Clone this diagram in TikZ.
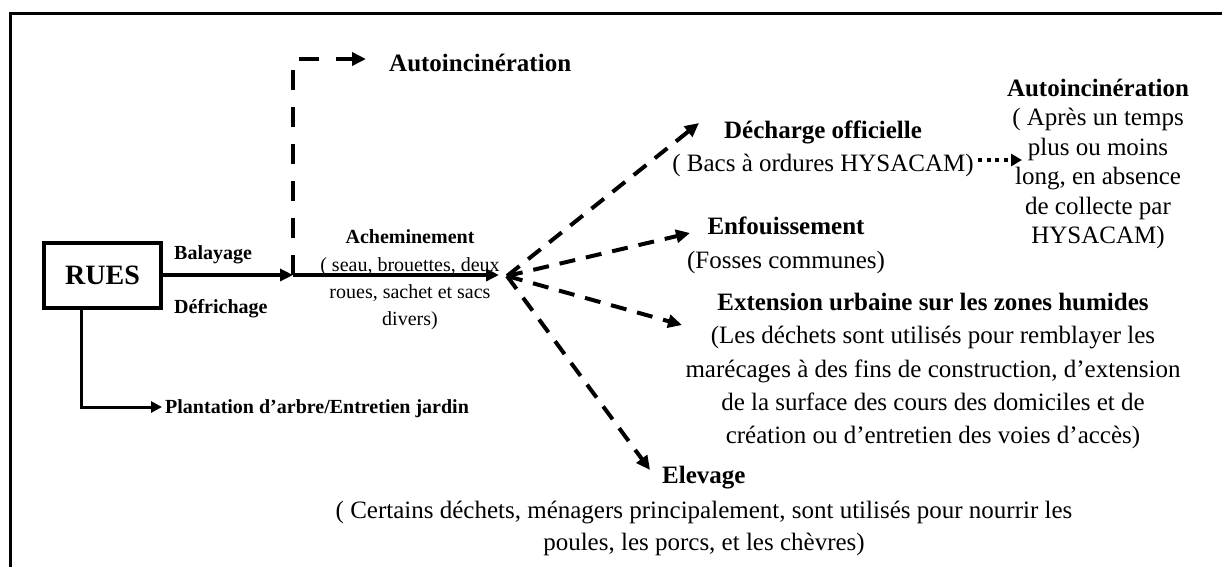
\documentclass[tikz,border=0pt]{standalone}
\usepackage{fontspec}
\setmainfont{Liberation Serif}
\usetikzlibrary{arrows.meta,calc}
\begin{document}
\begin{tikzpicture}[x=1pt,y=-1pt,
  bigtext/.style={font=\fontsize{25}{29}\selectfont, inner sep=0pt, align=center},
  bigbold/.style={font=\fontsize{25}{29}\selectfont\bfseries, inner sep=0pt},
  smalltext/.style={font=\fontsize{20}{27.3}\selectfont, inner sep=0pt, align=center},
  smallbold/.style={font=\fontsize{20}{24}\selectfont\bfseries, inner sep=0pt},
  framestyle/.style={line width=3pt},
  solidarrow/.style={line width=4pt, -{Triangle[length=13pt,width=12pt]}},
  thinarrow/.style={line width=3pt, -{Triangle[length=11pt,width=11pt]}},
  dasharrow/.style={line width=4pt, dash pattern=on 16pt off 11pt, -{Triangle[length=14pt,width=13pt]}},
  dotarrow/.style={line width=4pt, dash pattern=on 4pt off 4.5pt, -{Triangle[length=11pt,width=12pt]}},
]
\useasboundingbox (0,0) rectangle (1222,566);
\clip (0,0) rectangle (1222,566);
\fill[white] (0,0) rectangle (1222,566);

% frame
\coordinate (fb) at (10,590);
\coordinate (ftl) at (10,13);
\coordinate (ftr) at (1240,13);
\draw[framestyle] (fb) -- (ftl) -- (ftr);

% RUES box
\node[draw, line width=4pt, minimum width=117pt, minimum height=65pt, inner sep=0pt,
      font=\fontsize{28}{30}\selectfont\bfseries] (rues) at (102.5,275) {RUES};
\node[smallbold, anchor=west] (bal) at (174,255) {Balayage};
\node[smallbold, anchor=west] (def) at (174,309) {Défrichage};

% main arrows
\coordinate (split) at (293,275);
\coordinate (hubin) at (499,275);
\draw[solidarrow] (rues.east) -- (split);
\draw[solidarrow] (split) -- (hubin);

% Acheminement
\node[smalltext] (ach) at (410,280) {\textbf{Acheminement}\\( seau, brouettes, deux\\roues, sachet et sacs\\divers)};

% top Autoincineration
\coordinate (corner) at (293,59);
\coordinate (topend) at (366,59);
\draw[dasharrow, dash pattern=on 20pt off 17pt] (split) -- (corner) -- (topend);
\node[bigbold, anchor=west] (auto1) at (389,62.5) {Autoincinération};

% Plantation
\coordinate (plend) at (162,407);
\draw[thinarrow] ($(rues.south west)!0.33!(rues.south east)$) |- (plend);
\node[smallbold, anchor=west] (plant) at (165,409) {Plantation d’arbre/Entretien jardin};

% hub dashed arrows
\coordinate (hub) at (507,276);
\coordinate (dech) at (699,123);
\coordinate (enf) at (690,233);
\coordinate (ext) at (682,325);
\coordinate (elev) at (650,470);
\draw[dasharrow] (hub) -- (dech);
\draw[dasharrow] (hub) -- (enf);
\draw[dasharrow] (hub) -- (ext);
\draw[dasharrow] (hub) -- (elev);

% Decharge
\node[bigtext, font=\fontsize{25}{33}\selectfont] (decharge) at (823,149) {\textbf{Décharge officielle}\\( Bacs à ordures HYSACAM)};

% dotted to right block
\coordinate (dotstart) at (978,160);
\coordinate (dotend) at (1022,160);
\draw[dotarrow] (dotstart) -- (dotend);
\node[bigtext, font=\fontsize{25}{29.4}\selectfont] (auto2) at (1098,164) {\textbf{Autoincinération}\\( Après un temps\\plus ou moins\\long, en absence\\de collecte par\\HYSACAM)};

% Enfouissement
\node[bigtext, font=\fontsize{25}{34}\selectfont] (enfou) at (786,245.5) {\textbf{Enfouissement}\\(Fosses communes)};

% Extension
\node[bigtext, font=\fontsize{25}{33.25}\selectfont] (exten) at (933,371) {\textbf{Extension urbaine sur les zones humides}\\(Les déchets sont utilisés pour remblayer les\\marécages à des fins de construction, d’extension\\de la surface des cours des domiciles et de\\création ou d’entretien des voies d’accès)};

% Elevage
\node[bigbold, anchor=west] (elevage) at (662,478) {Elevage};
\node[bigtext, font=\fontsize{25}{32}\selectfont] (elevtxt) at (704,528.5) {( Certains déchets, ménagers principalement, sont utilisés pour nourrir les\\poules, les porcs, et les chèvres)};
\end{tikzpicture}
\end{document}
